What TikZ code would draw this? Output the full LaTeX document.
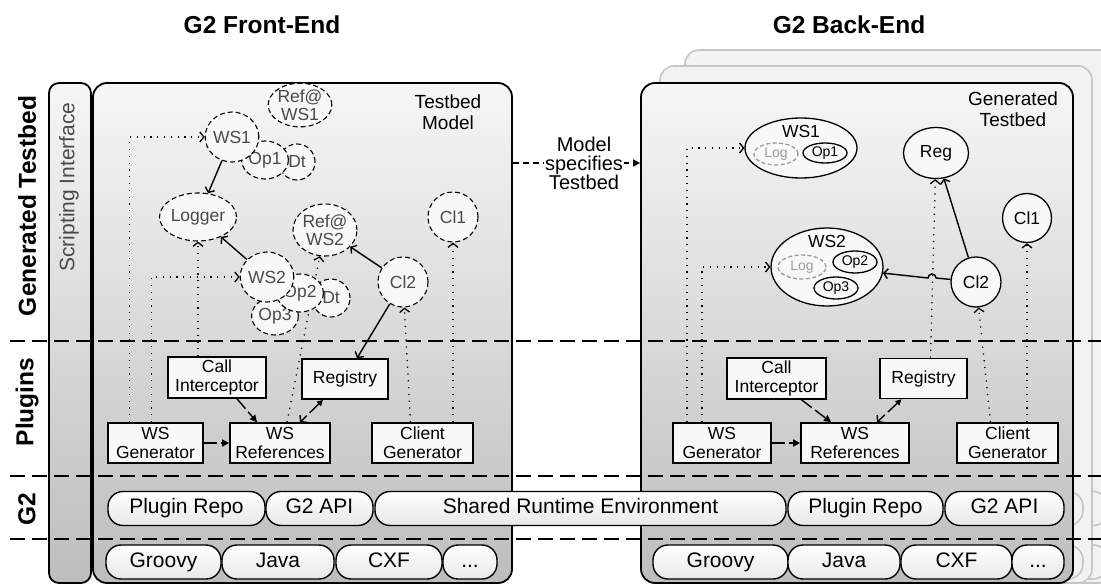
\documentclass[tikz,border=0pt]{standalone}
\usepackage{fontspec}
\setmainfont{Liberation Sans}
\usetikzlibrary{arrows.meta,shapes.geometric}

\pgfdeclarelayer{panels}
\pgfdeclarelayer{edges}
\pgfsetlayers{panels,edges,main}

\definecolor{paneltop}{HTML}{F6F6F6}
\definecolor{panelbot}{HTML}{BDBDBD}
\definecolor{nodefill}{HTML}{F8F8F8}
\definecolor{rowbot}{HTML}{E8E8E8}
\definecolor{ghostline}{HTML}{C6C6C6}
\definecolor{ghostfill}{HTML}{F2F2F2}
\definecolor{modeltext}{HTML}{4A4A4A}
\definecolor{loggray}{HTML}{9C9C9C}

\newcommand{\fsz}[2]{\fontsize{#1}{#2}\selectfont}

\begin{document}
\begin{tikzpicture}[x=1pt,y=-1pt,
    >={Straight Barb[length=4pt,width=10pt]},
    panel/.style={draw,line width=1.8pt,rounded corners=14pt,
      top color=paneltop,bottom color=panelbot,inner sep=0pt},
    ghost/.style={draw=ghostline,line width=1.6pt,rounded corners=14pt,
      fill=ghostfill,inner sep=0pt},
    title/.style={font={\fsz{24.5}{26}\bfseries}},
    note/.style={align=center,font={\fsz{19}{21}}},
    mnode/.style={ellipse,draw,line width=1.1pt,dash pattern=on 5pt off 3pt,
      fill=nodefill,text=modeltext,inner sep=0pt,align=center,font={\fsz{17.5}{18}}},
    tnode/.style={ellipse,draw,line width=1.3pt,fill=nodefill,inner sep=0pt,
      font={\fsz{17.5}{18}}},
    opnode/.style={ellipse,draw,line width=1.3pt,fill=nodefill,inner sep=0pt,
      font={\fsz{14}{15}}},
    lognode/.style={opnode,draw=loggray,text=loggray,dash pattern=on 4pt off 2.5pt},
    plugbox/.style={rectangle,draw,line width=1.6pt,fill=nodefill,align=center,
      inner sep=1pt,minimum height=40pt,font={\fsz{17.5}{19}}},
    rowbox/.style={rectangle,draw,line width=1.4pt,rounded corners=15pt,
      top color=white,bottom color=rowbot,minimum height=34pt,inner sep=0pt,
      text height=15pt,text depth=4.5pt,font={\fsz{21}{22}}},
    sol/.style={line width=1.4pt,->},
    dots/.style={line width=1.3pt,dash pattern=on 1.2pt off 5.6pt,->},
    plug/.style={line width=1.4pt,dash pattern=on 13pt off 4pt},
    sep/.style={line width=1.8pt,dash pattern=on 15pt off 7pt}]

  \useasboundingbox (0,0) rectangle (1101,586);

  % Panels
  \begin{pgfonlayer}{panels}
    \foreach \dx/\ty in {44/50,19/66} {
      \node[ghost,minimum width=432pt,minimum height={(583-\ty)*1pt}]
        (ghost\dx) at ({857+\dx},{(583+\ty)/2}) {};
      \node[ghost,rounded corners=15pt,minimum width=119pt,minimum height=34pt]
        (gapi\dx) at ({1004.5+\dx},508.5) {};
      \node[ghost,rounded corners=15pt,minimum width=52pt,minimum height=34pt]
        (gmore\dx) at ({1038+\dx},562) {};
    }
    \node[panel,minimum width=432pt,minimum height=500pt] (be) at (857,333) {};
    \node[panel,minimum width=419pt,minimum height=500pt] (fe) at (302.5,333) {};
    \node[panel,rounded corners=10pt,minimum width=42pt,minimum height=500pt]
      (si) at (70,333) {};
  \end{pgfonlayer}

  % Titles and layer labels
  \node[title] (fetitle) at (262,25) {G2 Front-End};
  \node[title] (betitle) at (849,25) {G2 Back-End};
  \node[title,rotate=90] (lgen) at (27,206) {Generated Testbed};
  \node[title,rotate=90] (lplug) at (27,402) {Plugins};
  \node[title,rotate=90] (lg2) at (27,509) {G2};
  \node[note,rotate=90,text=modeltext,font={\fsz{21}{23}}] (sitxt) at (69,187) {Scripting Interface};
  \node[note] (tbmodel) at (448,112) {Testbed\\Model};
  \node[note] (gentb) at (1013,109) {Generated\\Testbed};

  % Testbed model (front-end)
  \node[mnode,minimum width=63pt,minimum height=42pt] (refws1) at (300,105) {Ref@\\WS1};
  \node[mnode,minimum size=36pt] (dt1) at (297,162) {Dt};
  \node[mnode,minimum size=38pt] (op1) at (265,160) {Op1};
  \node[mnode,minimum size=50pt] (ws1) at (232,137) {WS1};
  \node[mnode,minimum width=65pt,minimum height=48pt] (logger) at (198,217) {Logger};
  \node[mnode,minimum width=64pt,minimum height=52pt] (refws2) at (325,230) {Ref@\\WS2};
  \node[mnode,minimum size=50pt] (cl1) at (453,217) {Cl1};
  \node[mnode,minimum size=38pt] (dt2) at (331,298) {Dt};
  \node[mnode,minimum size=38pt] (op3) at (275,316) {Op3};
  \node[mnode,minimum size=38pt] (op2) at (300,293) {Op2};
  \node[mnode,minimum size=50pt] (ws2) at (267,277) {WS2};
  \node[mnode,minimum size=50pt] (cl2) at (403,282) {Cl2};

  % Generated testbed (back-end)
  \node[tnode,minimum width=112pt,minimum height=60pt,
    label={[font={\fsz{17.5}{18}},anchor=north,yshift=-4pt]north:WS1}] (bws1) at (801,148) {};
  \node[lognode,minimum width=44pt,minimum height=22pt] (blog1) at (776,154) {Log};
  \node[opnode,minimum width=44pt,minimum height=20pt] (bop1) at (825,153) {Op1};
  \node[tnode,minimum width=65pt,minimum height=51pt] (bregc) at (936,153) {Reg};
  \node[tnode,minimum size=49pt] (bcl1) at (1027,218) {Cl1};
  \node[tnode,minimum width=112pt,minimum height=78pt,
    label={[font={\fsz{17.5}{18}},anchor=north,yshift=-4pt]north:WS2}] (bws2) at (827,267) {};
  \node[lognode,minimum width=48pt,minimum height=24pt] (blog2) at (802,267) {Log};
  \node[opnode,minimum width=44pt,minimum height=22pt] (bop2) at (855,262) {Op2};
  \node[opnode,minimum width=44pt,minimum height=22pt] (bop3) at (836,288) {Op3};
  \node[tnode,minimum size=50pt] (bcl2) at (976,282) {Cl2};

  % Plugins
  \node[plugbox,minimum width=95pt] (wsgen) at (155.5,443) {WS\\Generator};
  \node[plugbox,minimum width=100pt] (wsref) at (280,443) {WS\\References};
  \node[plugbox,minimum width=101pt] (cgen) at (422.5,443) {Client\\Generator};
  \node[plugbox,minimum width=98pt,minimum height=41pt] (ci) at (217,377.5) {Call\\Interceptor};
  \node[plugbox,minimum width=86pt] (reg) at (345,379) {Registry};
  \node[plugbox,minimum width=98pt] (bwsgen) at (722,443) {WS\\Generator};
  \node[plugbox,minimum width=108pt] (bwsref) at (855,443) {WS\\References};
  \node[plugbox,minimum width=101pt] (bcgen) at (1007.5,443) {Client\\Generator};
  \node[plugbox,minimum width=99pt,minimum height=41pt] (bci) at (776.5,378.5) {Call\\Interceptor};
  \node[plugbox,minimum width=87pt] (breg) at (923.5,378.5) {Registry};

  % G2 and runtime rows
  \foreach \n/\xl/\xr/\t in {frepo/108/265/Plugin Repo,fapi/266/373/G2 API,
      shared/375/786/Shared Runtime Environment,brepo/788/943/Plugin Repo,bapi/945/1064/G2 API}
    \node[rowbox,minimum width={(\xr-\xl)*1pt}] (\n) at ({(\xl+\xr)/2},508.5) {\t};
  \foreach \n/\xl/\xr/\t in {fgroovy/106/221/Groovy,fjava/222/334/Java,fcxf/336/442/CXF,
      bgroovy/653/788/Groovy,bjava/788/900/Java,bcxf/901/1012/CXF}
    \node[rowbox,minimum width={(\xr-\xl)*1pt}] (\n) at ({(\xl+\xr)/2},562) {\t};
  \node[rowbox,minimum width=54pt] (fmore) at (470,562) {...};
  \node[rowbox,minimum width=52pt] (bmore) at (1038,562) {...};

  % Model specifies testbed
  \node[note,fill=white,inner sep=1pt,font={\fsz{20}{19}}] (spec) at (584,163)
    {Model\\specifies\\Testbed};

  \begin{pgfonlayer}{edges}
    % Layer separators
    \foreach \y in {341,476,539}
      \draw[sep] (10,\y) -- (1101,\y);

    \draw[line width=1.6pt,dash pattern=on 6pt off 4pt,-{Triangle[length=7pt,width=7pt]}]
      (fe.east |- spec) -- (be.west |- spec);

    % Front-end links
    \draw[sol] (ws1) -- (logger);
    \draw[sol] (ws2) -- (logger);
    \draw[sol] (cl2) -- (refws2);
    \draw[sol] (cl2) -- ([xshift=12pt]reg.north);
    \draw[dots] ([xshift=-26pt]wsgen.north) |- (ws1);
    \draw[dots] ([xshift=-4pt]wsgen.north) |- (ws2);
    \draw[dots] (logger |- ci.north) -- (logger);
    \draw[dots] ([xshift=7pt]wsref.north) -- (refws2);
    \draw[dots] ([xshift=-12pt]cgen.north) -- (cl2);
    \draw[dots] (cl1 |- cgen.north) -- (cl1);
    \draw[plug,-{Triangle[length=7pt,width=7pt]}] (wsgen) -- (wsref);
    \draw[plug,-{Triangle[length=7pt,width=7pt]}]
      ([xshift=20pt]ci.south) -- ([xshift=-23pt]wsref.north);
    \draw[plug,{Triangle[length=6pt,width=6pt]}-{Straight Barb[length=4pt,width=10pt]}]
      ([xshift=-22pt]reg.south) -- ([xshift=20pt]wsref.north);

    % Back-end links
    \draw[dots] ([xshift=-35pt]bwsgen.north) |- (bws1);
    \draw[dots] ([xshift=-20pt]bwsgen.north) |- (bws2);
    \draw[dots] ([xshift=7pt]breg.north) -- (bregc);
    \draw[dots] ([xshift=-17pt]bcgen.north) -- (bcl2);
    \draw[dots] (bcl1 |- bcgen.north) -- (bcl1);
    \draw[sol] (bcl2) -- (bregc);
    \coordinate (hop) at (936,278);
    \draw[sol] (bcl2) -- (hop) arc[start angle=0,end angle=180,radius=4pt] -- (bws2);
    \draw[plug,-{Triangle[length=7pt,width=7pt]}] (bwsgen) -- (bwsref);
    \draw[plug,-{Triangle[length=7pt,width=7pt]}]
      ([xshift=25pt]bci.south) -- ([xshift=-24pt]bwsref.north);
    \draw[plug,{Triangle[length=6pt,width=6pt]}-{Straight Barb[length=4pt,width=10pt]}]
      ([xshift=-22pt]breg.south) -- ([xshift=22pt]bwsref.north);
  \end{pgfonlayer}

\end{tikzpicture}
\end{document}
